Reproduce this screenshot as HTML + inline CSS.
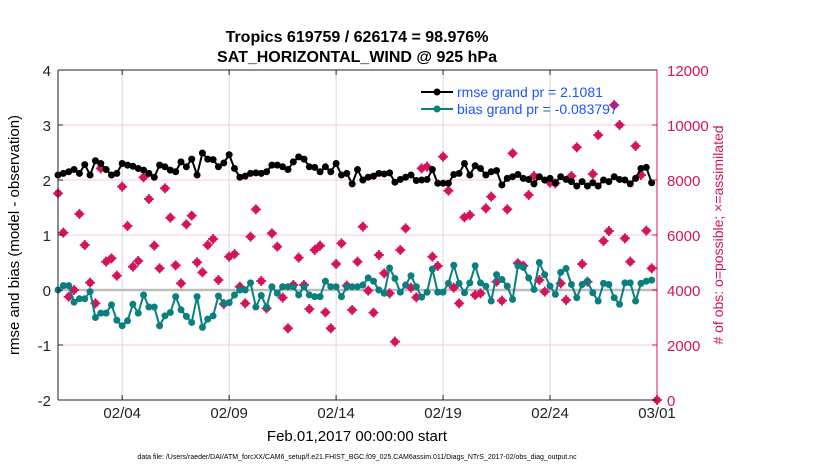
<!DOCTYPE html>
<html><head><meta charset="utf-8"><style>
body{margin:0;background:#fff;}
svg{display:block;font-family:"Liberation Sans",sans-serif;}
</style></head><body>
<svg id="chart" width="830" height="470">
<text x="357" y="42" text-anchor="middle" font-size="16" font-weight="bold">Tropics 619759 / 626174 = 98.976%</text>
<text x="357" y="62" text-anchor="middle" font-size="16" font-weight="bold">SAT_HORIZONTAL_WIND @ 925 hPa</text>
<g id="grid"></g>
<g id="marks"></g>
<g id="axes"></g>
<text x="357" y="441" text-anchor="middle" font-size="15">Feb.01,2017 00:00:00 start</text>
<text x="357" y="459" text-anchor="middle" font-size="7">data file: /Users/raeder/DAI/ATM_forcXX/CAM6_setup/f.e21.FHIST_BGC.f09_025.CAM6assim.011/Diags_NTrS_2017-02/obs_diag_output.nc</text>
<text transform="translate(19,235) rotate(-90)" text-anchor="middle" font-size="15">rmse and bias (model - observation)</text>
<text transform="translate(723,235) rotate(-90)" text-anchor="middle" font-size="14" fill="#d6135a"># of obs: o=possible; ×=assimilated</text>
<g id="legend">
<line x1="421" y1="92" x2="453" y2="92" stroke="#000" stroke-width="2"/>
<circle cx="437" cy="92" r="3.5" fill="#000"/>
<text x="457" y="97" font-size="14" fill="#1a55ff">rmse grand pr = 2.1081</text>
<line x1="421" y1="109" x2="453" y2="109" stroke="#0a7f80" stroke-width="2"/>
<circle cx="437" cy="109" r="3.5" fill="#0a7f80"/>
<text x="457" y="114" font-size="14" fill="#1a55ff">bias grand pr = -0.083797</text>
</g>
</svg>
<script>
const xTickLabels=["02/04","02/09","02/14","02/19","02/24","03/01"];
const xTickDays=[3,8,13,18,23,28];
const yLeftTicks=[-2,-1,0,1,2,3,4];
const yRightTicks=[0,2000,4000,6000,8000,10000,12000];
const rmse=[2.09,2.12,2.15,2.19,2.12,2.28,2.09,2.35,2.30,2.19,2.09,2.12,2.30,2.27,2.25,2.21,2.18,2.12,2.05,2.27,2.24,2.18,2.15,2.33,2.24,2.38,2.09,2.49,2.38,2.37,2.24,2.31,2.46,2.21,2.05,2.07,
2.12,2.13,2.12,2.15,2.27,2.27,2.24,2.19,2.33,2.42,2.38,2.24,2.23,2.15,2.24,2.15,2.30,2.09,2.12,1.93,2.19,2.00,2.05,2.07,2.12,2.11,2.13,1.96,2.01,2.05,2.09,1.99,2.00,2.01,2.19,1.94,1.94,1.94,2.10,2.12,
2.30,2.09,2.26,2.21,2.09,2.15,2.17,1.91,2.03,2.06,2.10,2.03,2.01,1.93,2.06,2.00,2.03,1.95,2.06,2.01,1.97,1.89,1.97,1.89,1.95,1.89,2.00,1.97,2.06,2.01,2.00,1.93,2.03,2.21,2.23,1.95];
const bias=[0.0,0.08,0.08,-0.22,-0.16,-0.16,-0.03,-0.5,-0.42,-0.42,-0.27,-0.55,-0.65,-0.56,-0.26,-0.42,-0.09,-0.31,-0.31,-0.65,-0.47,-0.41,-0.12,-0.36,-0.48,-0.59,-0.12,-0.68,-0.53,-0.47,-0.11,-0.24,-0.23,-0.09,0.0,0.0,
0.13,-0.31,-0.1,-0.31,0.06,-0.06,0.06,0.06,0.06,-0.09,0.06,-0.09,-0.12,-0.12,0.16,0.06,0.06,-0.12,0.06,0.06,0.06,0.09,0.22,0.16,0.0,-0.06,0.4,0.21,-0.04,0.09,0.26,0.06,-0.13,-0.04,0.38,-0.04,-0.04,0.12,0.45,0.12,
-0.05,0.13,0.44,0.13,0.07,-0.2,0.28,0.19,0.07,-0.17,0.44,0.41,0.22,0.01,0.5,0.28,0.07,-0.08,0.32,0.39,0.1,-0.14,0.1,0.16,-0.05,-0.2,0.12,0.1,-0.14,-0.26,0.13,0.13,-0.2,0.12,0.16,0.18];
const obsCount=[7515,6085,3755,4000,6764,5636,4267,3515,8424,5030,5152,4521,7757,6327,4848,5055,8097,7309,5612,4788,7697,6630,4897,4242,6388,6703,5006,4642,5636,5855,4364,3491,5212,5309,4121,3515,
5939,6933,4327,3333,6061,5576,3721,2606,4182,5176,4182,3309,5455,5612,3188,2606,4945,5697,4158,3273,5030,6303,3976,3176,5273,4606,3879,2121,5455,6242,4085,3733,8424,8485,5212,4873,8848,7612,4085,3515,
6642,6727,3818,3879,6970,7394,4303,3612,6933,8970,4970,4885,7455,8145,4364,3939,7903,7879,4242,3636,8145,9188,4945,4303,8218,9636,5782,6145,10727,10000,5879,5030,9236,8182,6158,4788,0];

const NS="http://www.w3.org/2000/svg";
const L=58,R=657,T=70,B=400;
const xS=d=>L+(d/28)*(R-L);
const yL=v=>B-(v+2)/6*(B-T);
const yR=v=>B-v/12000*(B-T);
const dayOf=i=>i*0.25;
function mk(tag,attrs,parent){const e=document.createElementNS(NS,tag);for(const k in attrs)e.setAttribute(k,attrs[k]);parent.appendChild(e);return e;}
const grid=document.getElementById('grid'),marks=document.getElementById('marks'),axes=document.getElementById('axes');
yLeftTicks.forEach(v=>{
  const g=mk('line',{x1:L,x2:R,y1:yL(v),y2:yL(v),stroke:'#f4cadb','stroke-width':1},grid);
  
  
  const t=mk('text',{x:L-7,y:yL(v)+6,'text-anchor':'end','font-size':15,fill:'#222'},axes);
  t.textContent=v;
  
  
  mk('line',{x1:L,x2:L+5,y1:yL(v),y2:yL(v),stroke:'#222'},axes);
});
yRightTicks.forEach(v=>{
  const t=mk('text',{x:R+10,y:yR(v)+6,'font-size':15,fill:'#d6135a'},axes);
  t.textContent=v;
  
  
  mk('line',{x1:R-5,x2:R,y1:yR(v),y2:yR(v),stroke:'#d6135a'},axes);
});
xTickDays.forEach((d,i)=>{
  const g=mk('line',{x1:xS(d),x2:xS(d),y1:T,y2:B,stroke:'#d8d8d8','stroke-width':1},grid);
  
  
  mk('line',{x1:xS(d),x2:xS(d),y1:B,y2:B-5,stroke:'#222'},axes);
  mk('line',{x1:xS(d),x2:xS(d),y1:T,y2:T+5,stroke:'#222'},axes);
  const t=mk('text',{x:xS(d),y:418,'text-anchor':'middle','font-size':15,fill:'#222'},axes);
  t.textContent=xTickLabels[i];
  
  
});
const zl=mk('line',{x1:L,x2:R,y1:yL(0),y2:yL(0),stroke:'#bdbdbd','stroke-width':2.5},grid);


mk('line',{x1:L,x2:R,y1:T,y2:T,stroke:'#222'},axes);
mk('line',{x1:L,x2:R,y1:B,y2:B,stroke:'#222'},axes);
mk('line',{x1:L,x2:L,y1:T,y2:B,stroke:'#222'},axes);
mk('line',{x1:R,x2:R,y1:T,y2:B,stroke:'#d6135a'},axes);
obsCount.forEach((c,i)=>{
  const g=mk('g',{},marks);
  
  
  const x=xS(dayOf(i)),y=yR(c);
  mk('circle',{cx:x,cy:y,r:3.8,fill:'#d6135a'},g);
  mk('path',{d:'M'+(x-5)+','+y+'H'+(x+5)+'M'+x+','+(y-5)+'V'+(y+5),stroke:'#d6135a','stroke-width':1.8},g);
});
function series(arr,color,name){
  const pts=arr.map((v,i)=>xS(dayOf(i))+','+yL(v)).join(' ');
  const pl=mk('polyline',{points:pts,fill:'none',stroke:color,'stroke-width':2},marks);
  
  
  arr.forEach((v,i)=>{
    const c=mk('circle',{cx:xS(dayOf(i)),cy:yL(v),r:3.5,fill:color},marks);
    
    
  });
}
series(bias,'#0a7f80','bias');
series(rmse,'#000','rmse');
</script>
</body></html>
